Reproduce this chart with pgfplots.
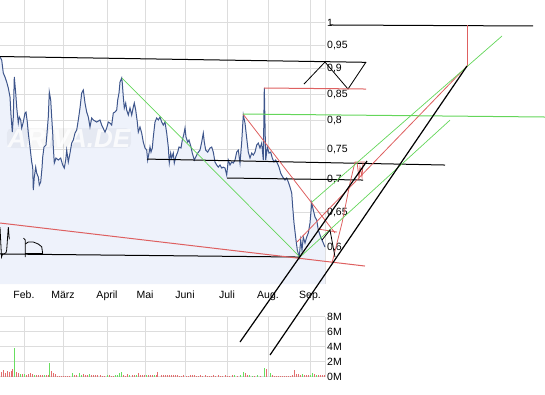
\documentclass[border=0pt]{standalone}
\usepackage{pgfplots}
\pgfplotsset{compat=1.18}
\usepackage{pgfplotstable}
\usepackage{fontspec}
\setmainfont{Liberation Sans}
\definecolor{gridgray}{RGB}{221,221,221}
\definecolor{fillblue}{RGB}{238,242,251}
\definecolor{priceblue}{RGB}{62,86,140}
\definecolor{tred}{RGB}{222,96,96}
\definecolor{tgreen}{RGB}{100,214,90}
\definecolor{vred}{RGB}{226,110,110}
\definecolor{vgreen}{RGB}{104,222,96}

\pgfplotstableread{
x y
0 0.9248
1.7 0.9185
3.3 0.8918
5 0.8837
6.7 0.8737
8.3 0.8619
10 0.8445
11 0.8106
12.3 0.7799
13.3 0.8069
14.3 0.8837
15.7 0.8522
16.7 0.8254
18.3 0.7960
19.3 0.8069
20.7 0.8014
21.7 0.7870
23.3 0.7978
25 0.8142
26 0.8161
27.3 0.7978
28.3 0.7781
30 0.7538
31.7 0.7285
32.7 0.7202
33.3 0.6836
34.3 0.7041
35.7 0.7202
36.7 0.7104
38.3 0.7041
39.3 0.6914
40.7 0.6961
42 0.7186
42.7 0.7367
44 0.7538
46 0.7572
46.7 0.7711
48.3 0.8069
49.3 0.8541
50.7 0.8387
51.7 0.8069
52.7 0.7781
53.3 0.7538
54.3 0.7268
56 0.7351
58.3 0.7318
60.7 0.7351
62.7 0.7235
64.3 0.7186
65.7 0.7318
66.7 0.7486
68.3 0.7285
70 0.7435
71.7 0.7606
73.3 0.7658
75 0.7781
76.7 0.7834
78.3 0.8014
80 0.8236
81.7 0.8522
83.3 0.8580
85 0.8330
86.7 0.8161
88.3 0.8069
90 0.7888
91.7 0.8051
93.3 0.8014
96.7 0.7978
100 0.8014
101.7 0.7924
105 0.7799
106.7 0.7870
108.3 0.7978
110 0.7960
111.7 0.7924
113.3 0.8142
115 0.8161
116.7 0.8198
117.7 0.8387
119 0.8522
120 0.8737
121.7 0.8817
122.3 0.8717
123.3 0.8445
124.3 0.8236
125.7 0.8330
126.7 0.8198
128.3 0.8106
130 0.8236
131.7 0.8106
133.3 0.8254
134.3 0.8330
135.7 0.8198
137.3 0.7978
138.3 0.7799
140 0.7888
141.7 0.7781
143.3 0.7623
145 0.7521
146.7 0.7486
147.7 0.7318
149 0.7435
150 0.7538
151 0.7452
152.3 0.7521
153.3 0.7711
155 0.7978
156.7 0.8051
158.3 0.8014
160 0.8069
161.7 0.7978
163.3 0.7924
165 0.7978
166.7 0.7781
168.3 0.7538
169.3 0.7268
170.7 0.7435
171.7 0.7351
173.3 0.7435
174.3 0.7268
175.7 0.7367
177.7 0.7452
179 0.7538
181 0.7521
182.3 0.7658
183.7 0.7746
185 0.7870
186 0.7711
187.7 0.7623
189 0.7658
191 0.7538
192.3 0.7435
194.3 0.7318
195.7 0.7367
197.7 0.7435
200 0.7486
201.7 0.7623
203.3 0.7781
204.3 0.7623
205.7 0.7486
207.7 0.7452
210 0.7521
211.7 0.7538
213.3 0.7452
215 0.7285
216.7 0.7235
218.3 0.7202
220 0.7235
221.7 0.7186
223.3 0.7202
225 0.7186
226.7 0.7073
228.3 0.7318
230 0.7235
231.7 0.7285
233.3 0.7268
235 0.7318
236.7 0.7452
238.3 0.7486
240 0.7268
241.7 0.7623
243.3 0.8106
245 0.7960
246.7 0.7693
248.3 0.7452
250 0.7351
251.7 0.7435
253.3 0.7401
255 0.7452
256.7 0.7572
258.3 0.7606
260 0.7521
261.7 0.7606
263.3 0.7318
264.3 0.8619
265.7 0.7318
267.3 0.7538
269 0.7435
270.7 0.7452
272.3 0.7351
274 0.7285
275.7 0.7318
277.3 0.7268
279 0.7202
280.7 0.7104
282.7 0.7041
285 0.6993
286.7 0.7025
288.3 0.6961
290 0.6883
291.7 0.6790
292.7 0.6577
294 0.6342
296 0.6101
297.3 0.5964
299.3 0.5870
300.7 0.6101
302 0.5964
303.3 0.6143
305 0.6060
306.7 0.6143
308.3 0.6200
310 0.6342
311.7 0.6637
313.3 0.6532
315 0.6429
316.7 0.6385
318.3 0.6242
320.7 0.6143
323.3 0.6060
325 0.6005
}\pricetab

\pgfplotstableread{
x v
1 0.7
3 0.9
5 0.5
7 0.8
9 0.7
11 0.8
12.5 1.0
16 0.6
18 0.5
22 0.4
26 0.3
28 0.4
30 0.5
32 0.4
36 0.3
38 0.2
40 0.3
42 0.2
46 0.2
48 0.2
51 0.8
53 0.5
55 0.4
57 0.15
59 0.15
61 0.15
63 0.15
65 0.15
67 0.15
69 0.15
74 0.3
76 0.2
83 0.4
85 0.3
87 0.3
91 0.3
93 0.2
95 0.2
97 0.2
100 0.2
102 0.15
104 0.15
109 0.2
111 0.15
113 0.15
123 0.3
125 0.15
127 0.4
132 0.2
134 0.2
138 0.5
140 0.2
142 0.2
144 0.2
148 0.2
150 0.3
152 0.2
156 0.3
157.5 0.6
161 0.3
163 0.3
165 0.3
167 0.3
169 0.2
171 0.3
173 0.3
175 0.3
177 0.2
179 0.15
181 0.15
183 0.2
186 0.15
188 0.15
190 0.3
192 0.2
194 0.2
196 0.15
198 0.15
200 0.2
202 0.15
205 0.2
207 0.15
209 0.15
211 0.15
213 0.2
215 0.15
218 0.2
220 0.15
222 0.15
225 0.2
227 0.15
229 0.15
232 0.2
237 0.15
245 0.5
247 0.3
254 0.15
260 0.15
266 1.0
272 0.2
274 0.15
276 0.15
278 0.15
280 0.15
282 0.15
284 0.15
286 0.15
288 0.15
290 0.15
292 0.2
294 0.9
296 0.4
298 0.4
300 0.3
304 0.3
306 0.3
308 0.2
314 0.4
318 0.2
320 0.2
322 0.2
324 0.2
}\volred

\pgfplotstableread{
x v
14 3.9
20 0.4
24 0.4
34 0.3
44 0.3
49.5 1.8
72 0.5
79 0.5
81 0.3
89 0.4
107 0.2
115 0.3
117 0.2
119 0.5
121 0.6
129 0.3
136 0.3
146 0.3
154 0.3
234 0.2
240 0.3
243 0.7
249 0.3
252 0.1
257 0.3
264 1.2
270 0.5
302 0.4
310 0.3
312 0.5
316 0.3
}\volgreen

\begin{document}
\begin{tikzpicture}
\useasboundingbox (0pt,0pt) rectangle (545pt,395pt);

% volume panel
\begin{axis}[
  at={(0pt,18pt)}, anchor=south west,
  width=325pt, height=60pt, scale only axis,
  xmin=0, xmax=325, ymin=0, ymax=8,
  axis line style={draw=none},
  major tick length=0pt,
  xtick={24,63,107,145,185,227,268,310},
  xticklabels={},
  extra x ticks={325}, extra x tick labels={},
  extra x tick style={grid=major},
  ytick={0,2,4,6,8},
  yticklabels={0M,2M,4M,6M,8M},
  yticklabel pos=right,
  grid=major, grid style={gridgray, line width=1pt},
  tick label style={font=\fontsize{10.5}{12}\selectfont},
  yticklabel style={anchor=west, inner sep=0pt, xshift=2pt},
]
\addplot[ycomb, vred, line width=1pt] table[x=x, y=v] {\volred};
\addplot[ycomb, vgreen, line width=1pt] table[x=x, y=v] {\volgreen};
\end{axis}

% price panel
\begin{axis}[
  at={(0pt,111pt)}, anchor=south west,
  width=325pt, height=284pt, scale only axis,
  xmin=0, xmax=325, ymode=log, ymin=0.5521, ymax=1.0527,
  log origin y=infty,
  clip=false,
  axis line style={draw=none},
  major tick length=0pt,
  xtick={24,63,107,145,185,227,268,310},
  xticklabels={Feb.,März,April,Mai,Juni,Juli,Aug.,Sep.},
  extra x ticks={325}, extra x tick labels={},
  extra x tick style={grid=major},
  ytick={0.6,0.65,0.7,0.75,0.8,0.85,0.9,0.95,1},
  yticklabels={{0,6},{0,65},{0,7},{0,75},{0,8},{0,85},{0,9},{0,95},{1}},
  yticklabel pos=right,
  grid=major, grid style={gridgray, line width=1pt},
  tick label style={font=\fontsize{10.5}{12}\selectfont},
  xticklabel style={anchor=base, yshift=-14pt},
  yticklabel style={anchor=west, inner sep=0pt, xshift=2pt},
]
\addplot[draw=none, fill=fillblue] table[x=x, y=y] {\pricetab} \closedcycle;
\node[fill=black, fill opacity=0.035, text=white, text opacity=0.8, rounded corners=5pt,
      inner sep=1pt, font=\fontsize{26}{26}\selectfont\bfseries\itshape]
      at (axis cs:69,0.7693) {ARIVA.DE};
\addplot[priceblue, line width=1pt] table[x=x, y=y] {\pricetab};

% black horizontal trend lines
\addplot[black, line width=1pt] coordinates {(0,0.9258) (366,0.9137)};
\addplot[black, line width=0.8pt] coordinates {(304,0.8697) (325,0.9143) (348,0.8599) (366,0.9143)};
\addplot[black, line width=1pt] coordinates {(147,0.7334) (445,0.7235)};
\addplot[black, line width=1pt] coordinates {(227,0.7025) (363,0.6993)};
\addplot[black, line width=1pt] coordinates {(0,0.5911) (300,0.5870)};
\addplot[black, line width=1pt] coordinates {(330,0.9946) (533,0.9923)};
% red lines
\addplot[tred, line width=1pt] coordinates {(264,0.8619) (366,0.8599)};
\addplot[tred, line width=0.8pt] coordinates {(243,0.8124) (335,0.6199)};
\addplot[tred, line width=0.8pt] coordinates {(318,0.6256) (337,0.6213)};
\addplot[tred, line width=1pt] coordinates {(0,0.6342) (365,0.5751)};
\addplot[tred, line width=0.8pt] coordinates {(297,0.6074) (467,0.9061)};
\addplot[tred, line width=1pt] coordinates {(467,0.9061) (467,0.9946)};
\addplot[tred, line width=0.8pt] coordinates {(332,0.5791) (342,0.6342) (350,0.6945) (355,0.7285) (365,0.7285)};
\addplot[tred, line width=0.8pt] coordinates {(357,0.7285) (359,0.7025) (360,0.7202) (362,0.7041) (363,0.7268)};
% green lines
\addplot[tgreen, line width=1pt] coordinates {(243,0.8124) (545,0.8069)};
\addplot[tgreen, line width=0.7pt] coordinates {(122,0.8817) (300,0.5870)};
\addplot[tgreen, line width=0.7pt] coordinates {(312,0.6652) (502,0.9700)};
\addplot[tgreen, line width=0.7pt] coordinates {(300,0.5870) (450,0.8012)};
% black diagonal lines
\addplot[black, line width=1.2pt] coordinates {(240,0.4839) (367,0.7301)};
\addplot[black, line width=1.2pt] coordinates {(270,0.4698) (467,0.9061)};
\addplot[black, line width=0.8pt] coordinates {(322,0.6101) (330,0.6242) (335,0.5870)};
% doodles bottom left
\addplot[black, line width=0.8pt] coordinates {(0,0.6284) (1.5,0.5870) (2.7,0.5911) (4,0.5911) (6,0.5928) (6.7,0.5964) (8.3,0.6284) (9.3,0.6112)};
\addplot[black, line width=0.8pt] coordinates {(23.5,0.6129) (25.3,0.6101) (25.3,0.5870)};
\addplot[black, line width=0.8pt] coordinates {(25.3,0.6046) (28.3,0.6074) (33.3,0.6074) (38.3,0.6046) (41.7,0.6009) (42.7,0.5917)};
\addplot[black, line width=1.4pt] coordinates {(25.3,0.5917) (42.7,0.5917)};
\end{axis}
\end{tikzpicture}
\end{document}
